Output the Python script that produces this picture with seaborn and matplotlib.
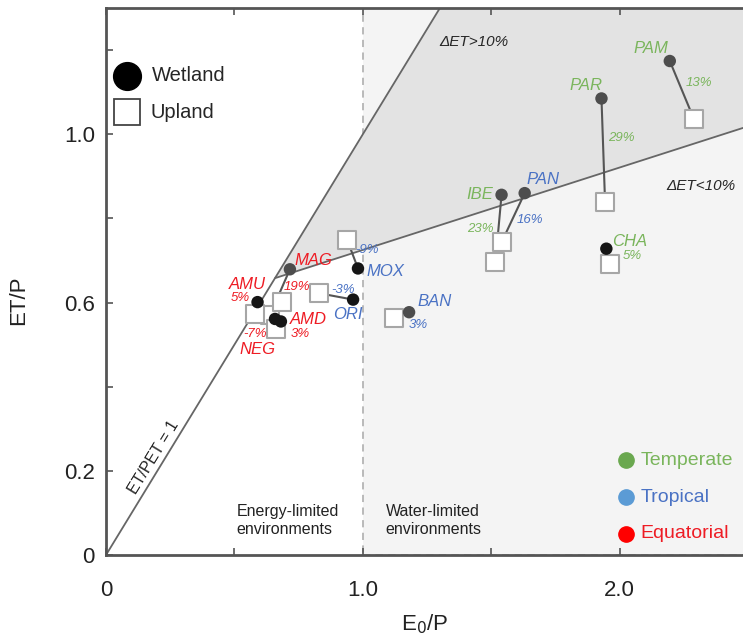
import matplotlib
matplotlib.use("Agg")
import matplotlib.pyplot as plt
import numpy as np
import pandas as pd
import seaborn as sns
from matplotlib.patches import Rectangle, Polygon

# ---- data -------------------------------------------------------------
sites = ["PAM", "PAR", "IBE", "PAN", "CHA", "BAN",
         "MOX", "ORI", "MAG", "AMU", "NEG", "AMD"]
climate = ["Temperate", "Temperate", "Temperate", "Tropical", "Temperate", "Tropical",
           "Tropical", "Tropical", "Equatorial", "Equatorial", "Equatorial", "Equatorial"]
wet_x = [2.195, 1.929, 1.540, 1.630, 1.948, 1.180, 0.981, 0.962, 0.716, 0.590, 0.658, 0.681]
wet_y = [1.174, 1.085, 0.856, 0.860, 0.728, 0.577, 0.681, 0.607, 0.679, 0.601, 0.561, 0.555]
up_x = [2.289, 1.943, 1.516, 1.540, 1.964, 1.121, 0.939, 0.830, 0.639, 0.582, 0.687, 0.660]
up_y = [1.036, 0.838, 0.696, 0.743, 0.692, 0.564, 0.749, 0.622, 0.571, 0.573, 0.601, 0.538]
delta_et = ["13%", "29%", "23%", "16%", "5%", "3%", "-9%", "-3%", "19%", "5%", "-7%", "3%"]

climate_order = ["Temperate", "Tropical", "Equatorial"]
x_ticks = [0, 0.5, 1.0, 1.5, 2.0]
x_ticklabels = ["0", "", "1.0", "", "2.0"]
y_ticks = [0, 0.2, 0.4, 0.6, 0.8, 1.0, 1.2]
y_ticklabels = ["0", "0.2", "", "0.6", "", "1.0", ""]

# boundary of the "ΔET > 10%" band (lower edge), given by two points
band_pt1 = (1.0, 0.725)
band_pt2 = (2.48, 1.015)

# ---- styling ----------------------------------------------------------
sns.set_style("ticks")
plt.rcParams["font.family"] = ["Liberation Sans", "DejaVu Sans"]

label_col = {"Temperate": "#7ab55c", "Tropical": "#4a72c4", "Equatorial": "#ee1c24"}
legend_col = {"Temperate": "#6aa84f", "Tropical": "#5b9bd5", "Equatorial": "#ff0000"}
dark_marker_sites = {"CHA", "MOX", "ORI", "AMU", "NEG", "AMD"}

# label offsets in pixels relative to the wetland marker: name, then ΔET
offsets = {
    "PAM": ((-19, 13), (29, -22)),
    "PAR": ((-15, 13), (20, -40)),
    "IBE": ((-22, 0), (-21, -34)),
    "PAN": ((18, 14), (5, -27)),
    "CHA": ((23, 7), (26, -7)),
    "BAN": ((26, 11), (9, -13)),
    "MOX": ((27, -3), (9, 18)),
    "ORI": ((-5, -15), (-10, 10)),
    "MAG": ((24, 9), (7, -18)),
    "AMU": ((-10, 18), (-17, 4)),
    "NEG": ((-18, -31), (-20, -15)),
    "AMD": ((27, 2), (19, -13)),
}

df = pd.DataFrame({"site": sites, "climate": climate,
                   "wet_x": wet_x, "wet_y": wet_y,
                   "up_x": up_x, "up_y": up_y, "delta": delta_et})
df["tone"] = np.where(df["site"].isin(dark_marker_sites), "dark", "grey")
links = pd.concat([
    df[["site", "wet_x", "wet_y"]].rename(columns={"wet_x": "x", "wet_y": "y"}),
    df[["site", "up_x", "up_y"]].rename(columns={"up_x": "x", "up_y": "y"}),
], ignore_index=True)

xmax, ymax = 2.48, 1.30

fig = plt.figure(figsize=(7.43, 6.42), dpi=100)
ax = fig.add_axes([106 / 743, 1 - 555 / 642, 1 - 106 / 743, (555 - 8) / 642])
ax.set_xlim(0, xmax)
ax.set_ylim(0, ymax)

# water-limited background
ax.add_patch(Rectangle((1.0, 0), xmax + 0.2 - 1.0, ymax, facecolor="#f4f4f4",
                       edgecolor="#b4b4b4", linestyle=(0, (4, 3)), linewidth=1.3, zorder=0))

# ΔET > 10% band between ET/PET = 1 and the lower band edge
slope = (band_pt2[1] - band_pt1[1]) / (band_pt2[0] - band_pt1[0])
icpt = band_pt1[1] - slope * band_pt1[0]
xi = icpt / (1 - slope)
y_right = icpt + slope * xmax
ax.add_patch(Polygon([(xi, xi), (xmax, y_right), (xmax, ymax), (ymax, ymax)],
                     closed=True, facecolor="#e3e3e3", edgecolor="none", zorder=0.5))
ax.plot([0, ymax], [0, ymax], color="#666666", lw=1.3, zorder=1)
ax.plot([xi, xmax], [xi, y_right], color="#666666", lw=1.3, zorder=1)

# connectors, upland squares, wetland circles
sns.lineplot(data=links, x="x", y="y", units="site", estimator=None, sort=False,
             color="#555555", lw=1.5, ax=ax, zorder=2, legend=False)
sns.scatterplot(data=df, x="up_x", y="up_y", marker="s", s=150, facecolor="white",
                edgecolor="#a6a6a6", linewidth=1.5, ax=ax, zorder=3, legend=False)
sns.scatterplot(data=df, x="wet_x", y="wet_y", hue="tone",
                palette={"dark": "#151515", "grey": "#4d4d4d"}, marker="o", s=80,
                edgecolor="none", ax=ax, zorder=4, legend=False)

for _, r in df.iterrows():
    (ndx, ndy), (pdx, pdy) = offsets[r["site"]]
    c = label_col[r["climate"]]
    ax.annotate(r["site"], (r["wet_x"], r["wet_y"]), xytext=(ndx, ndy),
                textcoords="offset pixels", ha="center", va="center",
                fontsize=12, style="italic", color=c, zorder=5)
    ax.annotate(r["delta"], (r["wet_x"], r["wet_y"]), xytext=(pdx, pdy),
                textcoords="offset pixels", ha="center", va="center",
                fontsize=9.5, style="italic", color=c, zorder=5)

# annotations
ax.text(1.432, 1.219, "ΔET>10%", fontsize=11, style="italic", ha="center", va="center")
ax.text(2.315, 0.878, "ΔET<10%", fontsize=11, style="italic", ha="center", va="center")
ax.text(0.187, 0.231, "ET/PET = 1", fontsize=11.5, rotation=58.6, ha="center", va="center",
        rotation_mode="anchor", color="#222222")
ax.text(0.509, 0.081, "Energy-limited\nenvironments", fontsize=11.5, ha="left", va="center",
        linespacing=1.25, color="#222222")
ax.text(1.088, 0.081, "Water-limited\nenvironments", fontsize=11.5, ha="left", va="center",
        linespacing=1.25, color="#222222")

# marker legend
ax.plot([0.083], [1.139], marker="o", ms=20, color="black", ls="none", zorder=5)
ax.text(0.178, 1.139, "Wetland", fontsize=14.5, ha="left", va="center")
ax.plot([0.083], [1.052], marker="s", ms=19, mfc="white", mec="#444444", mew=1.3,
        ls="none", zorder=5)
ax.text(0.172, 1.052, "Upland", fontsize=14.5, ha="left", va="center")

# climate legend
for name, yy in zip(climate_order, [0.225, 0.137, 0.050]):
    ax.plot([2.023], [yy], marker="o", ms=11, color=legend_col[name], ls="none", zorder=5)
    ax.text(2.082, yy, name, fontsize=14, ha="left", va="center", color=label_col[name])

# axes
ax.set_xticks(x_ticks)
ax.set_xticklabels(x_ticklabels)
ax.set_yticks(y_ticks)
ax.set_yticklabels(y_ticklabels)
ax.tick_params(axis="both", direction="in", length=5, width=1.2, color="#555555",
               labelsize=16, labelcolor="#222222")
ax.tick_params(axis="x", top=True, pad=18)
ax.tick_params(axis="y", pad=8)
for side in ["left", "bottom", "top"]:
    ax.spines[side].set_color("#555555")
    ax.spines[side].set_linewidth(2)
    ax.spines[side].set_zorder(6)
ax.spines["right"].set_visible(False)
ax.set_xlabel("E$_0$/P", fontsize=16, color="#222222")
ax.set_ylabel("ET/P", fontsize=16, color="#222222")
ax.xaxis.set_label_coords(0.5, -0.105)
ax.yaxis.set_label_coords(-0.12, 0.465)

fig.savefig("out.png", dpi=100)
